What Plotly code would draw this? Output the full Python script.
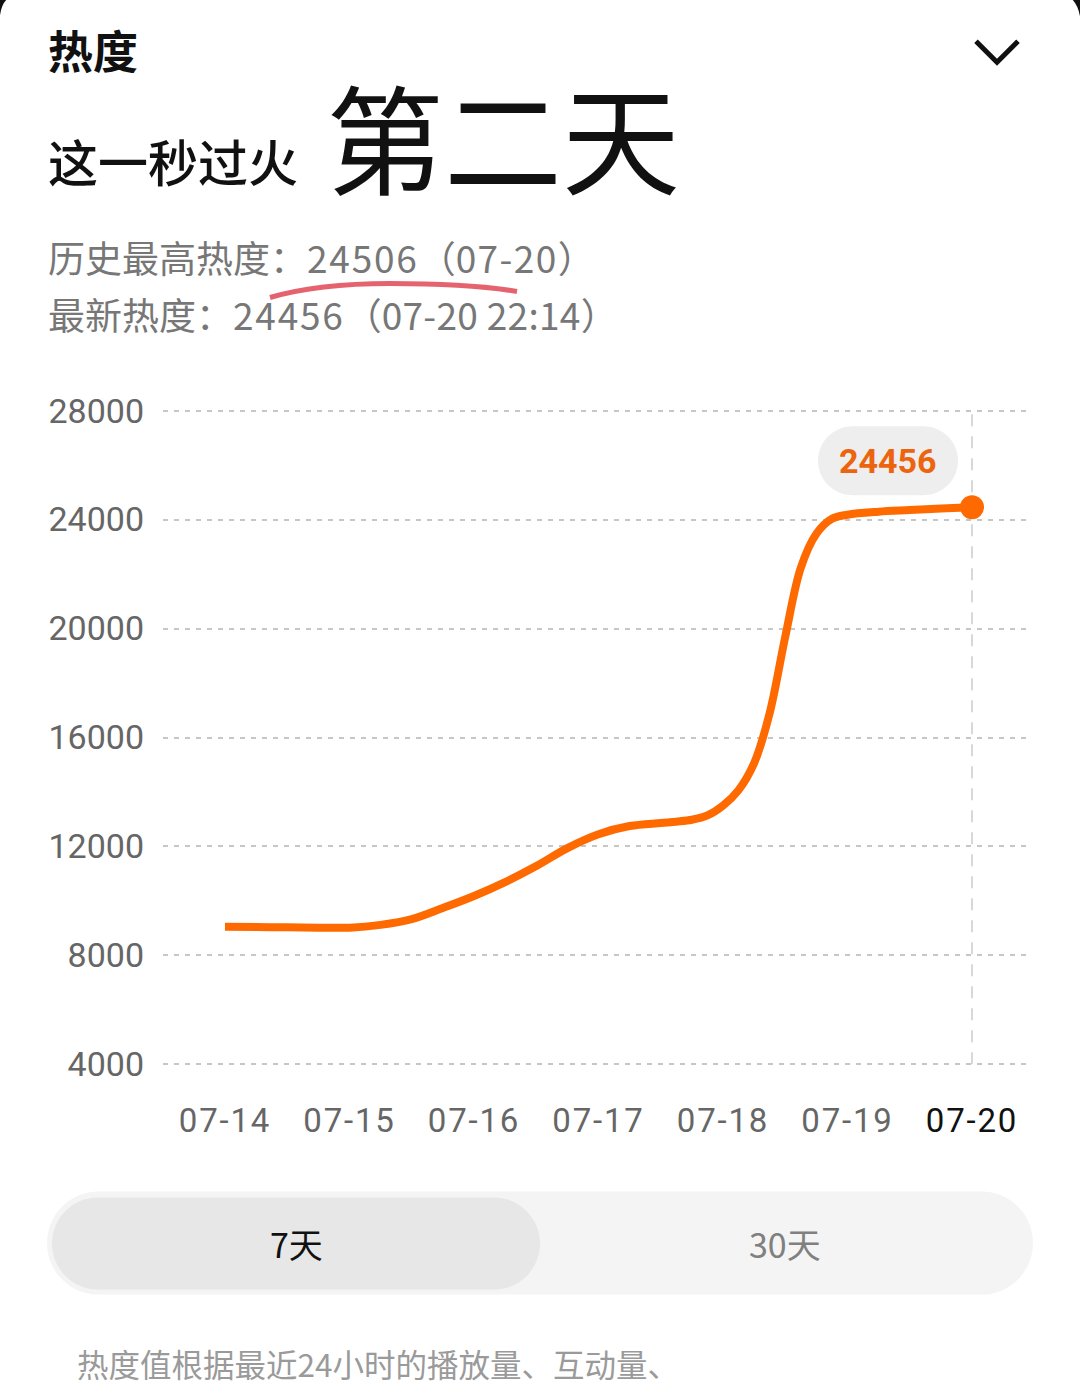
import plotly.graph_objects as go

# ---------------- data ----------------
dates = ["07-14", "07-15", "07-16", "07-17", "07-18", "07-19", "07-20"]
times = [
    "07-14 00:00", "07-14 06:00", "07-14 12:00", "07-14 18:00",
    "07-15 00:00", "07-15 06:00", "07-15 12:00", "07-15 18:00",
    "07-16 00:00", "07-16 06:00", "07-16 12:00", "07-16 18:00",
    "07-17 00:00", "07-17 06:00", "07-17 12:00", "07-17 15:00", "07-17 18:00", "07-17 21:00",
    "07-18 00:00", "07-18 03:00", "07-18 06:00", "07-18 09:00",
    "07-18 12:00", "07-18 15:00", "07-18 18:00", "07-18 21:00",
    "07-19 00:00", "07-19 06:00", "07-19 12:00", "07-19 18:00",
    "07-20 00:00",
]
heat = [
    9050, 9040, 9030, 9020,
    9020, 9120, 9330, 9740,
    10180, 10690, 11280, 11940,
    12450, 12750, 12860, 12910, 12980, 13140,
    13500, 14070, 15060, 16900,
    19700, 22230, 23480, 24030,
    24180, 24290, 24350, 24410,
    24456,
]
y_ticks = [4000, 8000, 12000, 16000, 20000, 24000, 28000]
peak_value, peak_date = 24506, "07-20"
latest_value, latest_time = 24456, "07-20 22:14"
range_options = ["7天", "30天"]
footer_text = "热度值根据最近24小时的播放量、互动量、"

# ---------------- layout helpers ----------------
W, H = 1080, 1400
PL, PR = 163, 1030
Y_TOP_PX, Y_BOT_PX = 411, 1064   # pixel rows of 28000 and 4000
pad_val = 60                      # small value padding so edge gridlines are drawn
ppv = (Y_BOT_PX - Y_TOP_PX) / (y_ticks[-1] - y_ticks[0])
PT = Y_TOP_PX - pad_val * ppv
PB = Y_BOT_PX + pad_val * ppv


def px(X):
    return (X - PL) / (PR - PL)


def py(Y):
    return (PB - Y) / (PB - PT)


def day_pos(t):
    d, hm = t.split(" ")
    day = int(d.split("-")[1]) - int(dates[0].split("-")[1])
    h, m = hm.split(":")
    return day + (int(h) + int(m) / 60) / 24


x_vals = [day_pos(t) for t in times]
x_ticks = [day_pos(d + " 00:00") for d in dates]

ORANGE = "#ff6a00"
CJK = "Noto Sans CJK SC"
NUM = "Roboto"

fig = go.Figure()
fig.add_trace(go.Scatter(
    x=x_vals, y=heat, mode="lines",
    line=dict(color=ORANGE, width=8, shape="spline", smoothing=1.0),
    hoverinfo="skip",
))
fig.add_trace(go.Scatter(
    x=[x_vals[-1]], y=[heat[-1]], mode="markers",
    marker=dict(color=ORANGE, size=24),
    hoverinfo="skip",
))

ticktext = [
    f"<span style='letter-spacing:1.8px;color:#111111'>{d}</span>" if i == len(dates) - 1
    else f"<span style='letter-spacing:1.8px'>{d}</span>"
    for i, d in enumerate(dates)
]

ppd = (972 - 225) / 6
xr0 = (PL - 225) / ppd
xr1 = (PR - 225) / ppd

fig.update_layout(
    width=W, height=H,
    margin=dict(l=PL, r=W - PR, t=PT, b=H - PB, pad=0),
    paper_bgcolor="white", plot_bgcolor="white",
    showlegend=False,
    xaxis=dict(
        range=[xr0, xr1], tickvals=x_ticks, ticktext=ticktext,
        showgrid=False, zeroline=False, showline=False, ticks="",
        tickfont=dict(family=NUM, size=33, color="#666666"),
        ticklabelstandoff=32, fixedrange=True,
    ),
    yaxis=dict(
        range=[y_ticks[0] - pad_val, y_ticks[-1] + pad_val], tickvals=y_ticks,
        ticktext=[str(v) for v in y_ticks],
        showgrid=True, gridcolor="#c6c6c6", gridwidth=2, griddash="5px,6px",
        zeroline=False, showline=False, ticks="",
        tickfont=dict(family=NUM, size=34, color="#666666"),
        ticklabelstandoff=18, fixedrange=True,
    ),
)

shapes = []
shapes.append(dict(type="line", xref="x", yref="y",
                   x0=x_vals[-1], x1=x_vals[-1], y0=y_ticks[0], y1=y_ticks[-1],
                   line=dict(color="#cccccc", width=1.5, dash="12px,10px"), layer="below"))


def pill_path(l, t, r, b, conv_x, conv_y):
    rad = (b - t) / 2
    k = 0.5523 * rad
    cy = (t + b) / 2
    pts = [
        ("M", [(l + rad, b)]),
        ("L", [(r - rad, b)]),
        ("C", [(r - rad + k, b), (r, cy + k), (r, cy)]),
        ("C", [(r, cy - k), (r - rad + k, t), (r - rad, t)]),
        ("L", [(l + rad, t)]),
        ("C", [(l + rad - k, t), (l, cy - k), (l, cy)]),
        ("C", [(l, cy + k), (l + rad - k, b), (l + rad, b)]),
    ]
    s = ""
    for cmd, ps in pts:
        s += cmd + " " + " ".join(f"{conv_x(a):.5f},{conv_y(c):.5f}" for a, c in ps) + " "
    return s + "Z"


bubble = pill_path(-154, 12, -14, 81, lambda v: v, lambda v: v)
shapes.append(dict(type="path", xref="x", yref="y", xsizemode="pixel", ysizemode="pixel",
                   xanchor=x_vals[-1], yanchor=heat[-1], path=bubble,
                   fillcolor="#eeeeee", line=dict(width=0), layer="below"))

shapes.append(dict(type="path", xref="paper", yref="paper",
                   path=pill_path(47, 1191, 1033, 1294, px, py),
                   fillcolor="#f4f4f4", line=dict(width=0)))
shapes.append(dict(type="path", xref="paper", yref="paper",
                   path=pill_path(52, 1197, 540, 1289, px, py),
                   fillcolor="#e7e7e7", line=dict(width=0)))

# chevron
shapes.append(dict(type="path", xref="paper", yref="paper",
                   path=f"M {px(976)},{py(42)} L {px(997)},{py(63)} L {px(1018)},{py(42)}",
                   line=dict(color="#111111", width=5)))

# red hand-drawn underline
shapes.append(dict(type="path", xref="paper", yref="paper",
                   path=(f"M {px(270)},{py(298)} Q {px(318)},{py(284)} {px(390)},{py(284)} "
                         f"Q {px(470)},{py(284)} {px(517)},{py(292)}"),
                   line=dict(color="rgba(222,60,75,0.8)", width=5)))

# dark rounded-corner slivers of the card at the top
shapes.append(dict(type="path", xref="paper", yref="paper",
                   path=f"M {px(0)},{py(0)} L {px(7)},{py(0)} Q {px(1.5)},{py(5)} {px(0)},{py(16)} Z",
                   fillcolor="#111111", line=dict(width=0)))
shapes.append(dict(type="path", xref="paper", yref="paper",
                   path=f"M {px(1080)},{py(0)} L {px(1072)},{py(0)} Q {px(1078)},{py(6)} {px(1080)},{py(17)} Z",
                   fillcolor="#111111", line=dict(width=0)))

fig.update_layout(shapes=shapes)

ann = []


def text(X, Y, s, size, color, family=CJK, bold=False, anchor="left", weight=None):
    f = dict(family=family, size=size, color=color)
    if weight:
        f["weight"] = weight
    ann.append(dict(xref="paper", yref="paper", x=px(X), y=py(Y), text=f"<b>{s}</b>" if bold else s,
                    showarrow=False, xanchor=anchor, yanchor="middle", font=f))


def spaced(s, sp):
    return f"<span style='letter-spacing:{sp}px'>{s}</span>"


text(46, 50, "热度", 45, "#111111", bold=True)
text(46, 161, "这一秒过火", 50, "#111111", weight=500)
text(324, 135, "第二天", 118, "#111111")
text(46, 258, f"历史最高热度：{spaced(peak_value, 1.8)}（{spaced(peak_date, 1.4)}）", 37, "#777777")
text(46, 314, f"最新热度：{spaced(latest_value, 1.8)}（{spaced(latest_time, 0.3)}）", 37, "#777777")
text(296, 1243, range_options[0], 34, "#111111", anchor="center")
text(785, 1243, range_options[1], 34, "#808080", anchor="center")
text(75, 1362, footer_text, 31.5, "#9a9a9a")

ann.append(dict(xref="x", yref="y", x=x_vals[-1], y=heat[-1], xshift=-84, yshift=46,
                text=f"<b>{latest_value}</b>", showarrow=False, xanchor="center", yanchor="middle",
                font=dict(family=NUM, size=34, color="#ec650e")))

fig.update_layout(annotations=ann)

fig.write_html("out.html")
